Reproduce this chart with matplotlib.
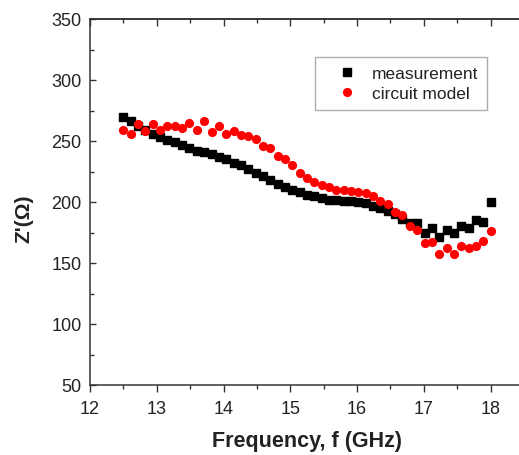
import numpy as np
import matplotlib
matplotlib.use("Agg")
import matplotlib.pyplot as plt
from matplotlib.ticker import MultipleLocator

plt.rcParams['font.family'] = ['Liberation Sans', 'DejaVu Sans']

freq_start = 12.5
freq_step = 0.11
measurement = [270, 266, 262, 259, 256, 253, 251, 249, 247, 244,
               242, 241, 239, 237, 235, 232, 230, 227, 224, 221,
               218, 215, 212, 210, 208, 206, 205, 203, 202, 202,
               201, 201, 200, 199, 197, 195, 193, 190, 186, 183,
               183, 175, 179, 171, 177, 175, 180, 179, 185, 184,
               200]
circuit_model = [259, 256, 264, 258, 264, 259, 262, 262, 261, 265,
                 259, 266, 257, 262, 256, 258, 255, 254, 252, 246,
                 244, 238, 235, 230, 224, 220, 216, 214, 212, 210,
                 210, 209, 208, 207, 205, 201, 198, 192, 189, 180,
                 177, 166, 167, 157, 162, 157, 164, 162, 164, 168,
                 176]
freq = [round(freq_start + freq_step * i, 2) for i in range(len(measurement))]

W, H = 519, 456
fig = plt.figure(figsize=(W / 100, H / 100), dpi=100)
left, right, top, bottom = 90, 524, 20, 386
ax = fig.add_axes([left / W, (H - bottom) / H, (right - left) / W, (bottom - top) / H])

ax.plot(freq, measurement, linestyle='none', marker='s', markersize=5.8,
        color='black', label='measurement')
ax.plot(freq, circuit_model, linestyle='none', marker='o', markersize=6.6,
        color='#ff0000', markeredgewidth=0, label='circuit model')

ax.set_xlim(12, 18.5)
ax.set_ylim(50, 350)
ax.xaxis.set_major_locator(MultipleLocator(1))
ax.xaxis.set_minor_locator(MultipleLocator(0.5))
ax.yaxis.set_major_locator(MultipleLocator(50))
ax.yaxis.set_minor_locator(MultipleLocator(25))

for s in ax.spines.values():
    s.set_linewidth(1.1)
    s.set_color('#333333')

ax.tick_params(axis='x', which='both', direction='out', top=False, color='#333333',
               labelsize=13, labelcolor='#222222', pad=6)
ax.tick_params(axis='x', which='major', length=5, width=1.0)
ax.tick_params(axis='x', which='minor', length=3, width=1.0)
ax.tick_params(axis='y', which='both', direction='in', right=False, color='#333333',
               labelsize=13, labelcolor='#222222', pad=6)
ax.tick_params(axis='y', which='major', length=4, width=1.0)
ax.tick_params(axis='y', which='minor', length=3, width=1.0)

# top ticks inward
sec = ax.secondary_xaxis('top')
sec.xaxis.set_major_locator(MultipleLocator(1))
sec.xaxis.set_minor_locator(MultipleLocator(0.5))
sec.tick_params(axis='x', which='both', direction='in', labeltop=False, color='#333333')
sec.tick_params(axis='x', which='major', length=5, width=1.0)
sec.tick_params(axis='x', which='minor', length=3, width=1.0)
sec.spines['top'].set_linewidth(1.1)
sec.spines['top'].set_color('#333333')

ax.set_xlabel('Frequency, f (GHz)', fontsize=15.5, fontweight='bold', color='#222222', labelpad=9)
ax.set_ylabel("Z'(Ω)", fontsize=15, fontweight='bold', color='#222222')
ax.yaxis.set_label_coords(-0.13, 0.456)

leg = ax.legend(loc='upper left', bbox_to_anchor=((315 - left) / (right - left), 1 - (58 - top) / (bottom - top)),
                frameon=True, fancybox=False, fontsize=12.5, handletextpad=0.1,
                borderpad=0.5, labelspacing=0.3, handlelength=2.68, borderaxespad=0)
leg.get_frame().set_edgecolor('#999999')
leg.get_frame().set_linewidth(1.0)
for t in leg.get_texts():
    t.set_color('#222222')

fig.savefig('out.png', dpi=100)
